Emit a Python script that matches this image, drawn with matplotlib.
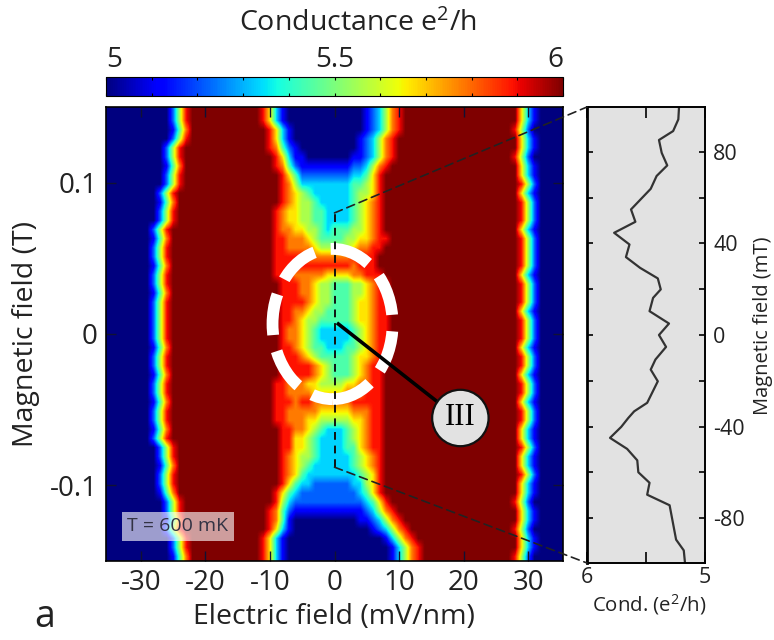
import numpy as np
import matplotlib
matplotlib.use('Agg')
import matplotlib.pyplot as plt
from matplotlib.patches import Ellipse, ConnectionPatch

plt.rcParams['font.family'] = ['Open Sans', 'DejaVu Sans']
plt.rcParams['axes.unicode_minus'] = False
plt.rcParams['mathtext.default'] = 'regular'

# conductance map, one char per cell: level 0-9 = 5 + level/9 (e2/h)
# rows go from +0.147 T down to -0.147 T, three blocks of columns
map_left = [  # -35 .. -16 mV/nm
    "00000000002589999999", "00000000002589999999", "00000000001479999999", "00000000002589999999",
    "00000000025899999999", "00000000025899999999", "00000000014799999999", "00000000025899999999",
    "00000000025899999999", "00000000258999999999", "00000000147999999999", "00000000258999999999",
    "00000000258999999999", "00000002589999999999", "00000001479999999999", "00000002589999999999",
    "00000002589999999999", "00000001479999999999", "00000002589999999999", "00000002589999999999",
    "00000001479999999999", "00000002589999999999", "00000002589999999999", "00000002589999999999",
    "00000002589999999999", "00000002589999999999", "00000001479999999999", "00000002589999999999",
    "00000002589999999999", "00000001479999999999", "00000002589999999999", "00000002589999999999",
    "00000001479999999999", "00000002589999999999", "00000002589999999999", "00000001479999999999",
    "00000002589999999999", "00000000258999999999", "00000000258999999999", "00000000147999999999",
    "00000000258999999999", "00000000258999999999", "00000000147999999999", "00000000025899999999",
    "00000000025899999999", "00000000014799999999", "00000000025899999999", "00000000002589999999",
    "00000000002589999999", "00000000001479999999",
]
map_mid = [  # -15 .. 15 mV/nm
    "9999863100" "0000000000" "12357899999", "9999863100" "0000000000" "12357899999",
    "9999986310" "0000000000" "12357899999", "9999986310" "0000000001" "23578999999",
    "9999987421" "0000000001" "23578999999", "9999998631" "1000000011" "23578999999",
    "9999998742" "1111111122" "35789999999", "9999999864" "2222222233" "46899999999",
    "9999999875" "3333333344" "56899999999", "9999999876" "5433333345" "56899999999",
    "9999999876" "5543333345" "67899999999", "9999998766" "5544333345" "67899999999",
    "9999998766" "5544333345" "67899999999", "9999998776" "6554344455" "67899999999",
    "9999998877" "7654444556" "67889999999", "9999998877" "7765555567" "78899999999",
    "9999998888" "8777777788" "88999999999", "9999998888" "8888888878" "88999999999",
    "9999998887" "7777666677" "88899999999", "9999999888" "7765544455" "67889999999",
    "9999999888" "7765544455" "67889999999", "9999999888" "8765544456" "67889999999",
    "9999999887" "7655444456" "67889999999", "9999999887" "6554444456" "67889999999",
    "9999999877" "6543333345" "67889999999", "9999999877" "6543333345" "67889999999",
    "9999999887" "6544333445" "67889999999", "9999999888" "7654444456" "67889999999",
    "9999999888" "8876544456" "78899999999", "9999999888" "8876544456" "78899999999",
    "9999998877" "7665555667" "78899999999", "9999998877" "7766666777" "88899999999",
    "9999998887" "8877777788" "88899999999", "9999998877" "7776666677" "78899999999",
    "9999998877" "7665555566" "78899999999", "9999999887" "7654333456" "78899999999",
    "9999999886" "6543333456" "78899999999", "9999999886" "6543333446" "78899999999",
    "9999999876" "5543333345" "67899999999", "9999999876" "5433333345" "67899999999",
    "9999999876" "4333333334" "56899999999", "9999999864" "3322222233" "56899999999",
    "9999998643" "2222222223" "46899999999", "9999998532" "2222222222" "34689999999",
    "9999987421" "1111111111" "23578999999", "9999987410" "0000000001" "12357899999",
    "9999986310" "0000000000" "01235789999", "9999863100" "0000000000" "00013578999",
    "9999863100" "0000000000" "00001357899", "9999863100" "0000000000" "00001357899",
]
map_right = [  # 16 .. 35 mV/nm
    "99999999999996310000", "99999999999996310000", "99999999999985200000", "99999999999996310000",
    "99999999999996310000", "99999999999985200000", "99999999999996310000", "99999999999996310000",
    "99999999999998520000", "99999999999996310000", "99999999999998520000", "99999999999998520000",
    "99999999999998520000", "99999999999996310000", "99999999999998520000", "99999999999998520000",
    "99999999999998520000", "99999999999998520000", "99999999999996310000", "99999999999998520000",
    "99999999999998520000", "99999999999998520000", "99999999999996310000", "99999999999998520000",
    "99999999999998520000", "99999999999998520000", "99999999999996310000", "99999999999998520000",
    "99999999999998520000", "99999999999996310000", "99999999999998520000", "99999999999998520000",
    "99999999999996310000", "99999999999998520000", "99999999999998520000", "99999999999996310000",
    "99999999999996310000", "99999999999998520000", "99999999999996310000", "99999999999996310000",
    "99999999999998520000", "99999999999996310000", "99999999999996310000", "99999999999985200000",
    "99999999999996310000", "99999999999996310000", "99999999999985200000", "99999999999996310000",
    "99999999999996310000", "99999999999985200000",
]

# line cut at zero electric field
cut_field = [99.6, 94.1, 89, 85.1, 79.5, 74, 69.4, 63.8, 54.8, 49.4, 44.6, 39.5, 34, 29.3, 24.7, 19.9,
             16.2, 10.4, 5, 0, -5.2, -10.7, -15.1, -20.2, -29.6, -33.3, -36.2, -40.1, -44.9, -49.7,
             -54.7, -59.9, -64.5, -69.7, -74.3, -89.3, -94, -99.2]
cut_cond = [5.22, 5.226, 5.27, 5.39, 5.367, 5.32, 5.41, 5.46, 5.627, 5.59, 5.77, 5.64, 5.67, 5.55, 5.40,
            5.375, 5.44, 5.47, 5.305, 5.39, 5.33, 5.42, 5.46, 5.40, 5.49, 5.60, 5.65, 5.71, 5.805, 5.66,
            5.574, 5.565, 5.47, 5.49, 5.30, 5.245, 5.18, 5.17]

rows = [a + b + c for a, b, c in zip(map_left, map_mid, map_right)]
grid = 5 + np.array([[int(ch) for ch in r] for r in rows]) / 9

W, H = 774, 640
def box(x0, y0, x1, y1):
    return [x0 / W, 1 - y1 / H, (x1 - x0) / W, (y1 - y0) / H]

fig = plt.figure(figsize=(7.74, 6.4), dpi=100)
ax = fig.add_axes(box(106, 107, 563, 561))
cax = fig.add_axes(box(106, 77, 563, 96))
ax2 = fig.add_axes(box(587, 107, 705, 563))

im = ax.imshow(grid, cmap='jet', vmin=5, vmax=6, aspect='auto', interpolation='bilinear',
               extent=[-35.5, 35.5, -0.15, 0.15])
ax.set_xlim(-35.4, 35.4)
ax.set_ylim(-0.15, 0.15)
ax.set_xticks([-30, -20, -10, 0, 10, 20, 30])
ax.set_yticks([-0.1, 0, 0.1])
ax.set_yticklabels(['-0.1', '0', '0.1'])
ax.tick_params(direction='in', top=True, right=True, length=7, width=1, labelsize=20, pad=6, color='#111133',
               labelcolor='#222222')
ax.set_xlabel('Electric field (mV/nm)', fontsize=20.5, color='#222222')
ax.xaxis.set_label_coords(228 / 457, -0.0925)
ax.set_ylabel('Magnetic field (T)', fontsize=20.5, color='#222222')
ax.yaxis.set_label_coords(-0.144, 0.5)
for s in ax.spines.values():
    s.set_linewidth(1.2)

cb = fig.colorbar(im, cax=cax, orientation='horizontal')
cb.set_ticks([5, 5.5, 6])
cb.set_ticklabels(['5', '5.5', '6'])
cax.xaxis.set_ticks_position('top')
cax.set_xticks(np.arange(5, 6.01, 0.1), minor=True)
cax.tick_params(which='both', direction='in', top=True, bottom=True, length=2, width=0.8, labelsize=20, pad=2,
                labelcolor='#222222')
labs = cax.get_xticklabels()
labs[0].set_ha('left')
labs[2].set_ha('right')
fig.text(358 / W, 1 - 24 / H, 'Conductance e$^2$/h', fontsize=20.5, color='#222222', ha='center', va='center')

ax.text(-32.1, -0.127, 'T = 600 mK', fontsize=14, color='#333344', ha='left', va='center',
        bbox=dict(boxstyle='square,pad=0.28', fc='white', ec='none', alpha=0.62))

# dashed cut and callouts
ax.plot([0, 0], [-0.088, 0.08], color='#111111', lw=1.4, ls=(0, (4, 3)))
ax.add_patch(Ellipse((-0.3, 0.0066), 18.6, 0.0993, fill=False, ec='white', lw=8.5, ls=(0, (3.5, 1.4))))
ax.plot([0.6, 16], [0.0066, -0.045], color='black', lw=2.6)
ax.text(19.5, -0.0555, 'III', fontsize=22, ha='center', va='center', family='Liberation Serif',
        bbox=dict(boxstyle='circle,pad=0.42', fc='#e2e2e2', ec='#111111', lw=1.6))

ax2.set_facecolor('#e2e2e2')
ax2.plot(cut_cond, cut_field, color='#333333', lw=1.6)
ax2.set_xlim(6, 5)
ax2.set_ylim(-99.5, 99.5)
ax2.set_xticks([6, 5.5, 5])
ax2.set_xticklabels(['6', '', '5'])
ax2.set_yticks([-80, -40, 0, 40, 80])
ax2.set_yticks([-60, -20, 20, 60], minor=True)
ax2.yaxis.tick_right()
ax2.tick_params(which='both', direction='in', top=True, left=True, right=True, length=4, width=1.2, labelsize=15.5, pad=6,
                labelcolor='#222222')
ax2.tick_params(axis='x', length=8, labelsize=15.5, pad=3)
ax2.set_xlabel('Cond. (e$^2$/h)', fontsize=14.7, color='#222222')
ax2.xaxis.set_label_coords(0.53, -0.063)
ax2.yaxis.set_label_position('right')
ax2.set_ylabel('Magnetic field (mT)', fontsize=14.5, color='#222222')
ax2.yaxis.set_label_coords(1.407, 0.52)
for s in ax2.spines.values():
    s.set_linewidth(1.4)
ax2.spines['left'].set_linewidth(2)

for y0, y1 in [(0.08, 99.5), (-0.088, -99.5)]:
    fig.add_artist(ConnectionPatch((0, y0), (6, y1), 'data', 'data', axesA=ax, axesB=ax2,
                                   color='#222222', lw=1.2, ls=(0, (5, 3))))

fig.text(45 / W, 1 - 627 / H, 'a', fontsize=27, ha='center', va='baseline', color='#222222')

fig.savefig('out.png', dpi=100)
